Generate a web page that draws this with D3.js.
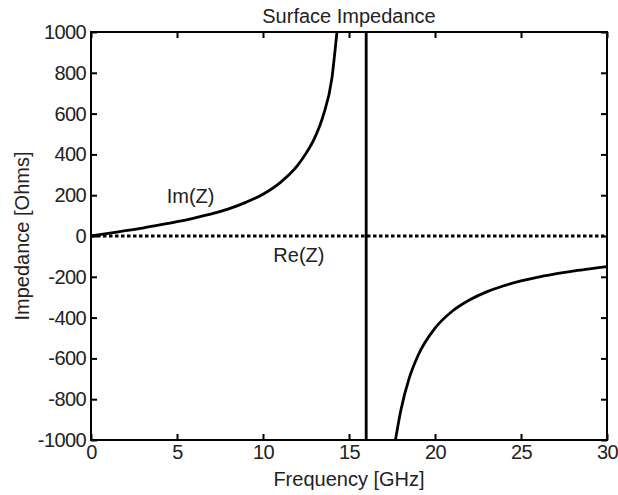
<!DOCTYPE html>
<html>
<head>
<meta charset="utf-8">
<script src="https://cdn.jsdelivr.net/npm/d3@7"></script>
<style>
  body { margin: 0; background: #fff; }
  svg text { font-family: "Liberation Sans", Arial, sans-serif; fill: #222; }
</style>
</head>
<body>
<script>
// values
var imFreqLow = [0, 1, 2, 3, 4, 5, 6, 7, 8, 9, 10, 11, 12, 12.5, 13, 13.5, 14, 14.3, 14.4];
var imValLow  = [0, 13, 26, 39, 54, 70, 88, 108, 133, 165, 205, 262, 345, 405, 480, 590, 770, 1000, 1080];

var imFreqHigh = [17.5, 17.7, 18, 18.5, 19, 20, 21, 22, 23, 24, 25, 26, 27, 28, 29, 30];
var imValHigh  = [-1100, -1000, -860, -697, -588, -452, -369, -314, -274, -244, -220, -201, -186, -172, -161, -150];

var reFreq = [0, 30];
var reVal  = [0, 0];

var poleFreq = [16];

var xTicks = [0, 5, 10, 15, 20, 25, 30];
var yTicks = [-1000, -800, -600, -400, -200, 0, 200, 400, 600, 800, 1000];

var W = 618, H = 495;
var margin = {left: 91, right: 11, top: 32, bottom: 55};
var pw = W - margin.left - margin.right;
var ph = H - margin.top - margin.bottom;

var svg = d3.select("body").append("svg")
    .attr("width", W)
    .attr("height", H);

var x = d3.scaleLinear().domain([0, 30]).range([0, pw]);
var y = d3.scaleLinear().domain([-1000, 1000]).range([ph, 0]);

var g = svg.append("g")
    .attr("transform", "translate(" + margin.left + "," + margin.top + ")");

g.append("clipPath").attr("id", "clip")
    .append("rect").attr("width", pw).attr("height", ph);

var plot = g.append("g").attr("clip-path", "url(#clip)");

var line = d3.line()
    .x(function (d) { return x(d[0]); })
    .y(function (d) { return y(d[1]); })
    .curve(d3.curveMonotoneX);

// Re(Z) dotted
plot.append("path")
    .datum(d3.zip(reFreq, reVal))
    .attr("d", line)
    .attr("fill", "none")
    .attr("stroke", "#000")
    .attr("stroke-width", 3)
    .attr("stroke-dasharray", "3.5,2.5");

// Im(Z) branches
[d3.zip(imFreqLow, imValLow), d3.zip(imFreqHigh, imValHigh)].forEach(function (pts) {
    plot.append("path")
        .datum(pts)
        .attr("d", line)
        .attr("fill", "none")
        .attr("stroke", "#000")
        .attr("stroke-width", 2.8);
});

// resonance line
plot.selectAll(".pole")
    .data(poleFreq)
    .enter()
    .append("line")
    .attr("x1", function (d) { return x(d); })
    .attr("x2", function (d) { return x(d); })
    .attr("y1", y(-1000))
    .attr("y2", y(1000))
    .attr("stroke", "#000")
    .attr("stroke-width", 2.8);

// axes, ticks inward on all four sides
function styleAxis(sel) {
    sel.select(".domain").remove();
    sel.selectAll(".tick line").attr("stroke", "#000").attr("stroke-width", 2);
    sel.selectAll(".tick text")
        .attr("font-size", 20)
        .attr("letter-spacing", "-0.6")
        .attr("fill", "#222");
}

g.append("g")
    .attr("transform", "translate(0," + ph + ")")
    .call(d3.axisBottom(x).tickValues(xTicks).tickSizeInner(-6).tickSizeOuter(0).tickPadding(5)
        .tickFormat(function (d) { return String(d); }))
    .call(styleAxis);

g.append("g")
    .call(d3.axisTop(x).tickValues(xTicks).tickSizeInner(-6).tickSizeOuter(0).tickFormat(""))
    .call(styleAxis);

g.append("g")
    .call(d3.axisLeft(y).tickValues(yTicks).tickSizeInner(-6).tickSizeOuter(0).tickPadding(5)
        .tickFormat(function (d) { return String(d); }))
    .call(styleAxis);

g.append("g")
    .attr("transform", "translate(" + pw + ",0)")
    .call(d3.axisRight(y).tickValues(yTicks).tickSizeInner(-6).tickSizeOuter(0).tickFormat(""))
    .call(styleAxis);

// frame
g.append("rect")
    .attr("width", pw)
    .attr("height", ph)
    .attr("fill", "none")
    .attr("stroke", "#000")
    .attr("stroke-width", 2);

// labels
svg.append("text")
    .attr("x", margin.left + pw / 2)
    .attr("y", 23)
    .attr("text-anchor", "middle")
    .attr("font-size", 20)
    .text("Surface Impedance");

svg.append("text")
    .attr("x", margin.left + pw / 2)
    .attr("y", 486)
    .attr("text-anchor", "middle")
    .attr("font-size", 20)
    .text("Frequency [GHz]");

svg.append("text")
    .attr("transform", "translate(29," + (margin.top + ph / 2) + ") rotate(-90)")
    .attr("text-anchor", "middle")
    .attr("font-size", 20)
    .text("Impedance [Ohms]");

g.append("text")
    .attr("x", x(4.4))
    .attr("y", y(160))
    .attr("font-size", 20)
    .text("Im(Z)");

g.append("text")
    .attr("x", x(10.6))
    .attr("y", y(-125))
    .attr("font-size", 20)
    .text("Re(Z)");
</script>
</body>
</html>
